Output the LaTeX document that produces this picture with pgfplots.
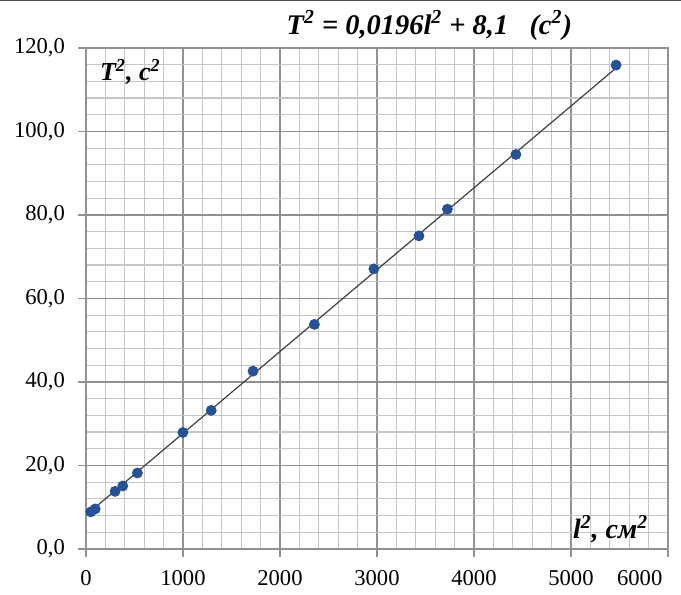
\documentclass[border=0pt]{standalone}
\usepackage{fontspec}
\setmainfont{Liberation Serif}
\usepackage{pgfplots}
\pgfplotsset{compat=1.18}
\definecolor{mk}{RGB}{38,82,148}
\definecolor{majg}{RGB}{145,145,145}
\definecolor{ming}{RGB}{198,198,198}
\begin{document}
\begin{tikzpicture}
\useasboundingbox (-43pt,-23pt) rectangle (297.5pt,274.5pt);
\begin{axis}[
  at={(0,0)}, anchor=south west,
  scale only axis, width=291pt, height=250.5pt,
  xmin=0, xmax=6000, ymin=0, ymax=120,
  xtick={0,1000,...,6000}, ytick={0,20,...,120},
  xticklabels={0,1000,2000,3000,4000,5000,{\llap{6000}\phantom{0}}},
  minor x tick num=4, minor y tick num=4,
  grid=both,
  major grid style={draw=majg, line width=0.6pt},
  minor grid style={draw=ming, line width=0.6pt},
  axis line style={draw=majg, line width=0.6pt},
  tick align=outside, xtick pos=left, ytick pos=left,
  major tick length=4pt, minor tick length=0pt,
  tick style={draw=majg, line width=0.6pt},
  tick label style={font=\fontsize{11.3}{13}\selectfont},
  /pgf/number format/assume math mode=true,
  xticklabel style={yshift=-3pt},
  yticklabel style={xshift=-3pt, /pgf/number format/.cd, fixed, fixed zerofill, precision=1, use comma, assume math mode=true},
  clip=false,
]
\addplot[black!75, line width=0.6pt] coordinates {(50,9.08) (5465,115.21)};
\addplot[only marks, mark=*, mark size=2.5pt, mark options={fill=mk, draw=mk}] coordinates {
(50,8.9) (95,9.6) (300,13.8) (379,15.1) (530,18.2) (999,27.9) (1291,33.2)
(1722,42.6) (2355,53.8) (2968,67.1) (3433,75.0) (3726,81.4) (4432,94.5) (5465,115.9)
};
\node[anchor=west, font=\fontsize{13}{15}\selectfont\bfseries\itshape] at (rel axis cs:0.012,0.952) {T\textsuperscript{2}, с\textsuperscript{2}};
\node[anchor=east, font=\fontsize{14}{16}\selectfont\bfseries\itshape] at (rel axis cs:0.978,0.04) {l\textsuperscript{2}, см\textsuperscript{2}};
\node[font=\fontsize{14.2}{16}\selectfont\bfseries\itshape] at (rel axis cs:0.59,1.045) {T\textsuperscript{2} = 0,0196l\textsuperscript{2} + 8,1\ \ \ (с\textsuperscript{2})};
\end{axis}
\draw[black!70, line width=1.2pt] (-43pt,274.5pt) -- (297.5pt,274.5pt);
\end{tikzpicture}
\end{document}
